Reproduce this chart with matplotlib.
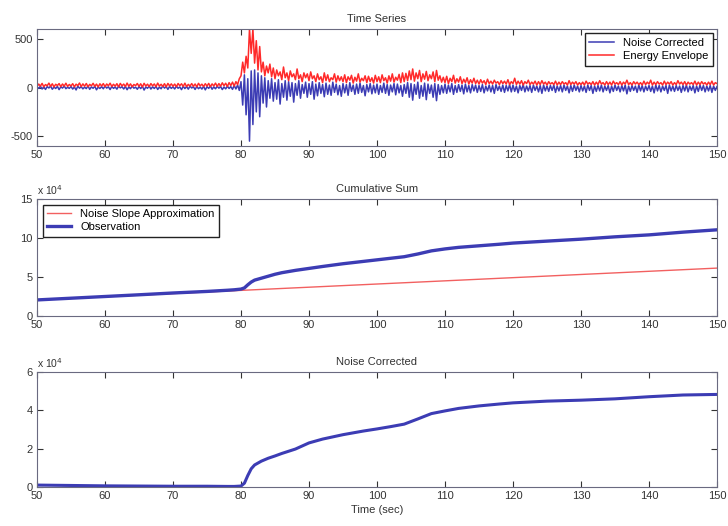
import matplotlib.pyplot as plt
import numpy as np

plt.rcParams["font.family"] = ["Liberation Sans", "DejaVu Sans"]
plt.rcParams["font.size"] = 8
plt.rcParams["axes.unicode_minus"] = False

# --- top panel: raw traces sampled every 0.25 s from 50 to 150 s -------------
t_start, t_step = 50.0, 0.25

noise_corrected = [
    3, -8, 12, -15, 6, -20, 9, -5, 14, -18, 4, -10, 11, -22, 7, -6, 15, -12, 2, -9,
    10, -16, 5, -25, 13, -7, 8, -14, 3, -11, 16, -19, 6, -8, 12, -24, 4, -10, 9, -13,
    14, -6, 7, -21, 11, -9, 5, -17, 13, -4, 8, -15, 10, -23, 6, -12, 15, -7, 3, -18,
    9, -11, 12, -26, 5, -8, 14, -16, 7, -10, 11, -20, 4, -13, 16, -6, 8, -19, 10, -9,
    6, -15, 13, -8, 5, -22, 12, -11, 9, -17, 14, -5, 7, -20, 10, -12, 4, -16, 11, -24,
    8, -9, 15, -18, 6, -13, 12, -7, 10, -21, 5, -14, 13, -10, 9, -19, 20, -15, 25, -30,
    60, -180, 130, -280, 90, -550, 170, -380, 180, -250, 150, -300, 120, -160, 100, -200, 70, -110, 90, -140,
    50, -120, 80, -170, 40, -100, 70, -130, 60, -90, 50, -150, 40, -80, 70, -110, 30, -60, 55, -100,
    40, -70, 60, -120, 35, -85, 50, -60, 30, -95, 45, -70, 25, -80, 55, -50, 35, -75, 20, -90,
    40, -55, 30, -80, 50, -40, 25, -70, 35, -60, 45, -50, 20, -85, 30, -45, 40, -65, 25, -55,
    35, -70, 20, -50, 45, -60, 30, -80, 25, -45, 40, -75, 35, -55, 20, -90, 30, -60, 50, -100,
    40, -130, 30, -70, 55, -110, 20, -90, 45, -125, 35, -60, 25, -100, 40, -135, 30, -70, 20, -55,
    35, -60, 25, -45, 40, -70, 20, -50, 30, -40, 25, -65, 35, -45, 20, -55, 30, -35, 25, -50,
    20, -40, 30, -55, 15, -35, 25, -45, 20, -60, 30, -30, 15, -40, 25, -50, 20, -35, 30, -45,
    25, -40, 15, -55, 20, -30, 30, -45, 15, -35, 20, -50, 25, -30, 15, -45, 20, -60, 25, -35,
    15, -40, 20, -30, 25, -50, 15, -35, 20, -45, 25, -30, 15, -55, 20, -40, 25, -30, 15, -45,
    20, -35, 15, -50, 25, -30, 20, -60, 15, -40, 20, -35, 25, -45, 15, -30, 20, -55, 15, -40,
    25, -30, 15, -45, 20, -35, 25, -65, 15, -40, 20, -30, 15, -50, 25, -35, 20, -45, 15, -30,
    20, -40, 15, -55, 25, -35, 20, -45, 15, -30, 20, -60, 25, -35, 15, -40, 20, -30, 15, -50,
    20, -35, 25, -45, 15, -30, 20, -55, 15, -40, 25, -30, 20, -45, 15, -35, 20, -50, 15, -30,
    10,
]

energy_envelope = [
    10, 35, 15, 42, 8, 30, 18, 45, 12, 38, 6, 33, 20, 40, 9, 36, 14, 44, 11, 31,
    16, 39, 7, 34, 19, 46, 10, 37, 13, 41, 8, 32, 17, 43, 12, 35, 6, 38, 15, 40,
    9, 36, 18, 44, 11, 33, 14, 39, 7, 42, 16, 35, 10, 45, 13, 37, 8, 31, 19, 41,
    12, 38, 6, 43, 15, 34, 10, 40, 17, 36, 9, 45, 14, 33, 11, 39, 7, 42, 16, 37,
    13, 35, 8, 41, 18, 38, 11, 44, 9, 32, 15, 40, 12, 36, 7, 43, 17, 34, 10, 39,
    14, 42, 9, 37, 16, 45, 11, 40, 13, 48, 18, 44, 10, 50, 20, 55, 15, 60, 30, 90,
    120, 260, 150, 320, 200, 600, 350, 600, 250, 480, 180, 420, 160, 260, 120, 220, 150, 240, 110, 200,
    90, 180, 120, 160, 80, 210, 100, 150, 70, 170, 110, 140, 80, 190, 90, 130, 60, 150, 100, 140,
    70, 160, 90, 120, 60, 140, 80, 110, 50, 150, 70, 130, 60, 100, 80, 140, 55, 120, 70, 110,
    60, 130, 50, 110, 75, 125, 45, 105, 65, 140, 55, 95, 70, 120, 50, 115, 60, 100, 45, 125,
    60, 110, 50, 130, 70, 100, 45, 120, 65, 140, 55, 105, 75, 135, 50, 150, 60, 145, 70, 170,
    80, 190, 65, 150, 90, 175, 60, 140, 85, 165, 70, 130, 90, 160, 60, 175, 75, 120, 55, 105,
    50, 115, 40, 95, 60, 125, 45, 90, 55, 110, 40, 85, 50, 100, 35, 80, 45, 95, 40, 75,
    35, 80, 45, 70, 30, 85, 40, 65, 35, 75, 45, 60, 30, 70, 40, 65, 35, 80, 30, 60,
    40, 95, 30, 65, 35, 70, 25, 60, 40, 75, 30, 55, 35, 65, 25, 60, 30, 70, 35, 55,
    25, 60, 35, 50, 30, 65, 25, 55, 30, 60, 35, 50, 25, 70, 30, 55, 35, 60, 25, 50,
    30, 55, 25, 65, 35, 50, 30, 60, 25, 55, 30, 70, 35, 50, 25, 60, 30, 55, 25, 65,
    35, 50, 30, 60, 25, 55, 35, 75, 30, 50, 25, 60, 35, 55, 30, 50, 25, 65, 30, 55,
    35, 75, 25, 55, 30, 60, 35, 50, 25, 65, 30, 55, 35, 60, 25, 50, 30, 70, 35, 55,
    30, 60, 25, 55, 35, 50, 30, 65, 25, 55, 30, 60, 35, 50, 25, 55, 30, 65, 25, 50,
    40,
]

# --- cumulative panels (values in units of 1e4) -------------------------------
cum_times = [50, 55, 60, 65, 70, 75, 78, 79, 80, 80.5, 81, 81.5, 82, 83, 84, 85, 86,
             88, 90, 92, 95, 98, 100, 102, 104, 106, 108, 110, 112, 115, 118, 120,
             125, 130, 135, 140, 145, 150]
observation_e4 = [2.06, 2.28, 2.50, 2.72, 2.95, 3.15, 3.30, 3.36, 3.45, 3.60, 4.00, 4.35,
                  4.60, 4.85, 5.10, 5.35, 5.55, 5.85, 6.10, 6.35, 6.70, 7.00, 7.20, 7.40,
                  7.60, 7.95, 8.35, 8.60, 8.80, 9.00, 9.20, 9.35, 9.60, 9.85, 10.15,
                  10.40, 10.75, 11.05]
slope_times = [50, 150]
slope_approx_e4 = [2.06, 6.14]
corrected_cum_e4 = [0.10, 0.08, 0.06, 0.05, 0.04, 0.04, 0.03, 0.03, 0.05, 0.20, 0.60, 0.95,
                    1.15, 1.35, 1.50, 1.62, 1.75, 1.98, 2.30, 2.50, 2.73, 2.92, 3.03, 3.15,
                    3.28, 3.55, 3.83, 3.97, 4.10, 4.23, 4.33, 4.39, 4.48, 4.53, 4.60,
                    4.71, 4.80, 4.83]

BLUE = "#3c3cb4"
RED = "#ff2a2a"
PINK = "#f26060"
TICK_GREY = "#333333"
SPINE = "#6a6a80"


def matlab_axes(ax, yticks, ylim):
    """Inward ticks on all four sides, plain frame, like a MATLAB figure."""
    ax.set_xlim(50, 150)
    ax.set_xticks(np.arange(50, 151, 10))
    ax.set_ylim(*ylim)
    ax.set_yticks(yticks)
    ax.tick_params(direction="in", top=True, right=True, length=4, width=0.8,
                   labelsize=8, colors=TICK_GREY, pad=3)
    for s in ax.spines.values():
        s.set_color(SPINE)
        s.set_linewidth(0.8)


fig = plt.figure(figsize=(7.28, 5.26), dpi=100)
left, width = 37 / 728, 680 / 728
ax1 = fig.add_axes([left, 1 - 146 / 526, width, 117 / 526])
ax2 = fig.add_axes([left, 1 - 316 / 526, width, 117 / 526])
ax3 = fig.add_axes([left, 1 - 487 / 526, width, 115 / 526])

# --- time series --------------------------------------------------------------
t = t_start + t_step * np.arange(len(noise_corrected))
ax1.plot(t, noise_corrected, color=BLUE, lw=1.1, label="Noise Corrected")
ax1.plot(t, energy_envelope, color=RED, lw=1.1, label="Energy Envelope")
matlab_axes(ax1, [-500, 0, 500], (-600, 600))
ax1.set_title("Time Series", fontsize=8, color=TICK_GREY, pad=5)
ax1.legend(loc="upper right", fancybox=False, edgecolor="#222222", framealpha=1,
           fontsize=8, handlelength=2.2, borderaxespad=0.4, labelspacing=0.3)

# --- cumulative sum -----------------------------------------------------------
ax2.plot(slope_times, slope_approx_e4, color=PINK, lw=1.0, label="Noise Slope Approximation")
ax2.plot(cum_times, observation_e4, color=BLUE, lw=2.4, label="Observation")
matlab_axes(ax2, [0, 5, 10, 15], (0, 15))
ax2.set_title("Cumulative Sum", fontsize=8, color=TICK_GREY, pad=5)
ax2.text(0.0, 1.02, r"x 10$^4$", transform=ax2.transAxes, fontsize=7.5,
         color=TICK_GREY, ha="left", va="bottom")
ax2.legend(loc="upper left", fancybox=False, edgecolor="#222222", framealpha=1,
           fontsize=8, handlelength=2.2, borderaxespad=0.5, labelspacing=0.3)

# --- noise corrected cumulative ----------------------------------------------
ax3.plot(cum_times, corrected_cum_e4, color=BLUE, lw=2.2)
matlab_axes(ax3, [0, 2, 4, 6], (0, 6))
ax3.set_title("Noise Corrected", fontsize=8, color=TICK_GREY, pad=5)
ax3.text(0.0, 1.02, r"x 10$^4$", transform=ax3.transAxes, fontsize=7.5,
         color=TICK_GREY, ha="left", va="bottom")
ax3.set_xlabel("Time (sec)", fontsize=8, color=TICK_GREY, labelpad=3)

fig.savefig("out.png", dpi=100)
